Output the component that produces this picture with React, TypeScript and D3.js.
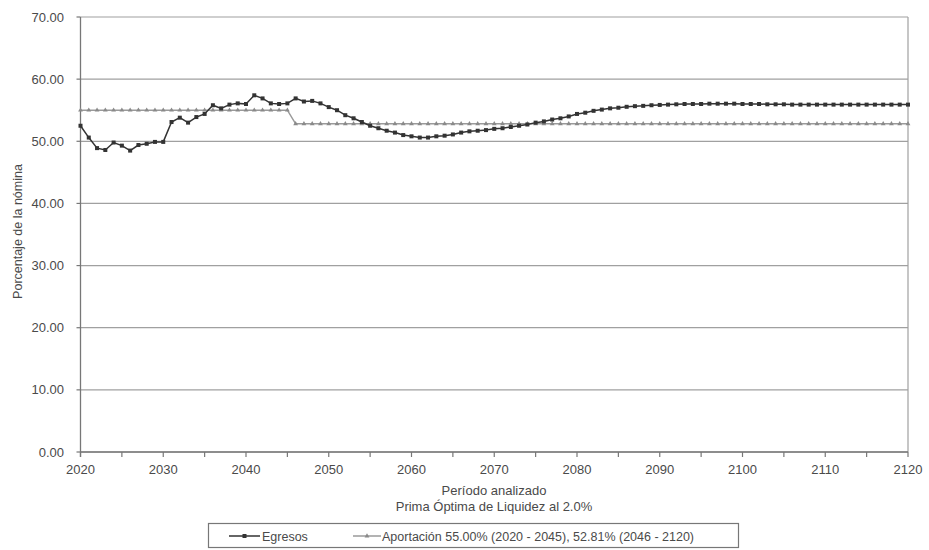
import React from "react";
import * as d3 from "d3";

const years: number[] = d3.range(2020, 2121);

const egresos: number[] = [
  52.5, 50.6, 48.9, 48.6, 49.8, 49.3, 48.5, 49.4, 49.6, 49.9,
  49.9, 53.1, 53.8, 53.0, 53.9, 54.4, 55.8, 55.3, 55.9, 56.1,
  56.0, 57.4, 56.9, 56.1, 56.0, 56.1, 56.9, 56.4, 56.5, 56.1,
  55.5, 55.0, 54.2, 53.7, 53.1, 52.5, 52.1, 51.7, 51.4, 51.0,
  50.8, 50.6, 50.6, 50.8, 50.9, 51.1, 51.4, 51.6, 51.7, 51.8,
  52.0, 52.1, 52.3, 52.5, 52.7, 53.0, 53.2, 53.5, 53.7, 54.0,
  54.4, 54.6, 54.9, 55.1, 55.3, 55.4, 55.55, 55.65, 55.7, 55.8,
  55.85, 55.9, 55.95, 56.0, 56.0, 56.0, 56.05, 56.05, 56.05, 56.05,
  56.0, 56.0, 56.0, 55.95, 55.95, 55.95, 55.9, 55.9, 55.9, 55.9,
  55.9, 55.9, 55.9, 55.9, 55.9, 55.9, 55.9, 55.9, 55.9, 55.9,
  55.9,
];

const aportacion: number[] = [
  55.0, 55.0, 55.0, 55.0, 55.0, 55.0, 55.0, 55.0, 55.0, 55.0,
  55.0, 55.0, 55.0, 55.0, 55.0, 55.0, 55.0, 55.0, 55.0, 55.0,
  55.0, 55.0, 55.0, 55.0, 55.0, 55.0,
  52.81, 52.81, 52.81, 52.81, 52.81, 52.81, 52.81, 52.81, 52.81, 52.81,
  52.81, 52.81, 52.81, 52.81, 52.81, 52.81, 52.81, 52.81, 52.81, 52.81,
  52.81, 52.81, 52.81, 52.81, 52.81, 52.81, 52.81, 52.81, 52.81, 52.81,
  52.81, 52.81, 52.81, 52.81, 52.81, 52.81, 52.81, 52.81, 52.81, 52.81,
  52.81, 52.81, 52.81, 52.81, 52.81, 52.81, 52.81, 52.81, 52.81, 52.81,
  52.81, 52.81, 52.81, 52.81, 52.81, 52.81, 52.81, 52.81, 52.81, 52.81,
  52.81, 52.81, 52.81, 52.81, 52.81, 52.81, 52.81, 52.81, 52.81, 52.81,
  52.81, 52.81, 52.81, 52.81, 52.81,
];

const yTicks: number[] = [0, 10, 20, 30, 40, 50, 60, 70];
const xLabelTicks: number[] = [2020, 2030, 2040, 2050, 2060, 2070, 2080, 2090, 2100, 2110, 2120];
const xMinorTicks: number[] = [2025, 2035, 2045, 2055, 2065, 2075, 2085, 2095, 2105, 2115];

const seriesNames = ["Egresos", "Aportación 55.00% (2020 - 2045), 52.81% (2046 - 2120)"];

const W = 929;
const H = 550;
const FONT = "'Liberation Sans', Arial, Helvetica, sans-serif";
const TEXT = "#4a4a4a";

export default function App() {
  const x = d3.scaleLinear().domain([2020, 2120]).range([80.5, 908]);
  const y = d3.scaleLinear().domain([0, 70]).range([452, 17]);

  const lineGen = d3
    .line<number>()
    .x((_, i) => x(years[i]))
    .y((d) => y(d));

  const tri = d3.symbol().type(d3.symbolTriangle).size(10)();

  return (
    <svg
      width={W}
      height={H}
      style={{ position: "absolute", left: 0, top: 0, background: "#fff" }}
      fontFamily={FONT}
    >
      <rect x={0} y={0} width={W} height={H} fill="#fff" />
      {/* gridlines */}
      {yTicks.map((t) => (
        <line key={"g" + t} x1={x(2020)} x2={x(2120)} y1={y(t)} y2={y(t)} stroke="#a0a0a0" strokeWidth={1.2} />
      ))}
      {/* right border */}
      <line x1={x(2120)} x2={x(2120)} y1={y(70)} y2={y(0)} stroke="#a0a0a0" strokeWidth={1.2} />
      {/* y axis */}
      <line x1={x(2020)} x2={x(2020)} y1={y(70)} y2={y(0) + 5} stroke="#777" strokeWidth={1.3} />
      {yTicks.map((t) => (
        <g key={"yt" + t}>
          <line x1={x(2020) - 4} x2={x(2020)} y1={y(t)} y2={y(t)} stroke="#777" strokeWidth={1.2} />
          <text x={64} y={y(t)} dy="0.35em" textAnchor="end" fontSize={13} fill={TEXT}>
            {t.toFixed(2)}
          </text>
        </g>
      ))}
      {/* x axis */}
      <line x1={x(2020)} x2={x(2120)} y1={y(0)} y2={y(0)} stroke="#777" strokeWidth={1.3} />
      {xLabelTicks.concat(xMinorTicks).map((t) => (
        <line key={"xt" + t} x1={x(t)} x2={x(t)} y1={y(0)} y2={y(0) + 5} stroke="#777" strokeWidth={1.2} />
      ))}
      {xLabelTicks.map((t) => (
        <text key={"xl" + t} x={x(t)} y={474} textAnchor="middle" fontSize={13} fill={TEXT}>
          {t}
        </text>
      ))}
      {/* axis titles */}
      <text x={494} y={495} textAnchor="middle" fontSize={13} fill={TEXT}>
        Período analizado
      </text>
      <text x={494} y={511} textAnchor="middle" fontSize={13} fill={TEXT}>
        Prima Óptima de Liquidez al 2.0%
      </text>
      <text
        transform={`translate(22, ${y(35) - 3}) rotate(-90)`}
        textAnchor="middle"
        fontSize={12.5}
        fill={TEXT}
      >
        Porcentaje de la nómina
      </text>

      {/* Aportación series */}
      <path d={lineGen(aportacion) || ""} fill="none" stroke="#9a9a9a" strokeWidth={1.5} />
      {aportacion.map((v, i) => (
        <path key={"a" + i} d={tri || ""} transform={`translate(${x(years[i])},${y(v)})`} fill="#8a8a8a" />
      ))}

      {/* Egresos series */}
      <path d={lineGen(egresos) || ""} fill="none" stroke="#333" strokeWidth={1.5} />
      {egresos.map((v, i) => (
        <rect key={"e" + i} x={x(years[i]) - 2} y={y(v) - 2} width={4} height={4} fill="#333" />
      ))}

      {/* legend */}
      <rect x={208.5} y={523.5} width={530} height={24} fill="#fff" stroke="#777" strokeWidth={1.2} />
      <line x1={229} x2={260} y1={536} y2={536} stroke="#333" strokeWidth={1.5} />
      <rect x={242.5} y={534} width={4} height={4} fill="#333" />
      <text x={262} y={540.5} fontSize={12.5} fill={TEXT}>
        {seriesNames[0]}
      </text>
      <line x1={353} x2={381} y1={536} y2={536} stroke="#9a9a9a" strokeWidth={1.5} />
      <path d={tri || ""} transform="translate(367,536)" fill="#8a8a8a" />
      <text x={382} y={540.5} fontSize={12.5} fill={TEXT}>
        {seriesNames[1]}
      </text>
    </svg>
  );
}
